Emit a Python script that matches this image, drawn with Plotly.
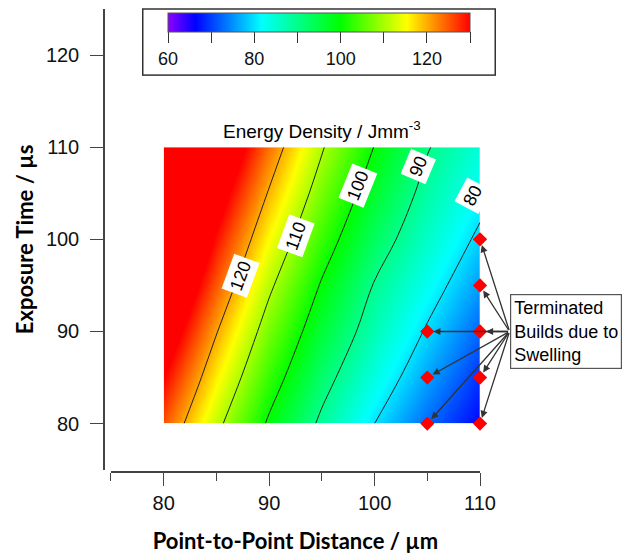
import plotly.graph_objects as go

# ---- data ----
distance = [80, 85, 90, 95, 100, 105, 110]          # Point-to-Point Distance / µm
exposure = [80, 85, 90, 95, 100, 105, 110]          # Exposure Time / µs
energy = [                                          # Energy Density / Jmm^-3 (rows = exposure)
    [125.3, 111.6, 99.1, 88.8, 80.0, 72.7, 66.5],
    [130.0, 116.0, 103.2, 92.3, 83.7, 76.1, 69.4],
    [135.0, 120.3, 107.1, 95.9, 86.9, 79.4, 72.4],
    [140.0, 124.8, 111.1, 99.4, 89.6, 82.6, 75.7],
    [145.0, 129.0, 115.3, 103.3, 93.1, 85.5, 78.9],
    [150.0, 133.4, 119.5, 107.0, 96.5, 88.0, 81.9],
    [155.0, 138.0, 123.6, 110.5, 99.8, 90.4, 84.4],
]
contour_start, contour_end, contour_step = 80, 120, 10
colorbar_tickvals = [60, 70, 80, 90, 100, 110, 120, 130]
colorbar_ticktext = ['60', '', '80', '', '100', '', '120', '']
x_ticks = [80, 90, 100, 110]
y_ticks = [80, 90, 100, 110, 120]

terminated_distance = [105, 105, 105, 110, 110, 110, 110, 110]
terminated_exposure = [80, 85, 90, 80, 85, 90, 95, 100]

contour_label_text = ["120", "110", "100", "90", "80"]
contour_label_x = [87.3, 92.5, 98.4, 104.1, 109.3]
contour_label_y = [96.0, 100.4, 105.8, 107.9, 104.7]
contour_label_angle = [-70, -70, -68, -67, -62]

rainbow = [[0.0, '#8f00ff'], [0.09, '#0000ff'], [0.31, '#00ffff'],
           [0.57, '#00ff00'], [0.79, '#ffff00'], [1.0, '#ff0000']]

TICKFONT = dict(family='Liberation Sans, Arial, sans-serif', size=20, color='#111')
TITLEFONT = dict(family='Lato, sans-serif', size=22, color='#000', weight='bold')
AXCOL = '#444'

fig = go.Figure()

# colour map (heatmap-coloured contour spans exactly the data range)
fig.add_trace(go.Contour(
    x=distance, y=exposure, z=energy,
    colorscale=rainbow, zauto=False, zmin=60, zmax=130,
    contours=dict(coloring='heatmap', showlines=False,
                  start=contour_start, end=contour_end, size=contour_step),
    line=dict(width=0),
    colorbar=dict(
        orientation='h', x=0.572, xanchor='center', y=1.0, yanchor='top',
        lenmode='pixels', len=350, thickness=19, xpad=24, ypad=4,
        outlinewidth=1, outlinecolor='#555',
        bordercolor='#333', borderwidth=1.5, bgcolor='white',
        tickvals=colorbar_tickvals, ticktext=colorbar_ticktext,
        ticks='outside', ticklen=11, tickwidth=1.3, tickcolor='#333',
        tickfont=dict(family='Liberation Sans, Arial, sans-serif', size=18, color='#111'),
    ),
    hoverinfo='skip',
))

# contour lines
fig.add_trace(go.Contour(
    x=distance, y=exposure, z=energy,
    contours=dict(coloring='none', showlines=True, showlabels=False,
                  start=contour_start, end=contour_end, size=contour_step),
    line=dict(color='#222', width=1),
    showscale=False, hoverinfo='skip',
))

# terminated builds
fig.add_trace(go.Scatter(
    x=terminated_distance, y=terminated_exposure, mode='markers',
    marker=dict(symbol='diamond', size=11, color='#ff0000', line=dict(width=0)),
    cliponaxis=False, showlegend=False, hoverinfo='skip',
))

annotations = []
# contour labels in white boxes
for t, lx, ly, ang in zip(contour_label_text, contour_label_x, contour_label_y, contour_label_angle):
    annotations.append(dict(
        x=lx, y=ly, xref='x', yref='y', text=t, showarrow=False, textangle=ang,
        bgcolor='white', borderpad=3,
        font=dict(family='Liberation Sans, Arial, sans-serif', size=18, color='#000'),
    ))

# heatmap title
annotations.append(dict(
    x=95, y=110.4, xref='x', yref='y', xanchor='center', yanchor='bottom',
    text='Energy Density / Jmm<sup>-3</sup>', showarrow=False,
    font=dict(family='Liberation Sans, Arial, sans-serif', size=19, color='#000'),
))

# call-out box
annotations.append(dict(
    x=1.08, xref='paper', y=90, yref='y', xanchor='left', yanchor='middle',
    text='Terminated<br>Builds due to<br>Swelling', align='left', showarrow=False,
    bordercolor='#555', borderwidth=1.2, borderpad=3, bgcolor='white',
    font=dict(family='Liberation Sans, Arial, sans-serif', size=18, color='#000'),
))
# arrows from the call-out box to each marker
for tx, ty in zip(terminated_distance, terminated_exposure):
    annotations.append(dict(
        x=tx, y=ty, xref='x', yref='y', ax=112.8, ay=90, axref='x', ayref='y',
        text='', showarrow=True, arrowhead=2, arrowsize=1.1, arrowwidth=1.3,
        arrowcolor='#333', standoff=6,
    ))

# page body has an 8px default margin, so the figure is sized to fill the rest
fig.update_layout(
    width=622, height=546,
    margin=dict(l=96, r=150, t=1, b=82),
    paper_bgcolor='white', plot_bgcolor='white',
    showlegend=False,
    annotations=annotations,
    xaxis=dict(
        domain=[0.0186, 1], range=[75, 110], anchor='free', position=0,
        tickvals=x_ticks, ticks='outside', ticklen=13, tickwidth=1.3, tickcolor=AXCOL,
        minor=dict(dtick=5, tick0=75, ticks='outside', ticklen=8, tickwidth=1.3, tickcolor=AXCOL),
        showline=True, linecolor=AXCOL, linewidth=1.5, showgrid=False, zeroline=False,
        tickfont=TICKFONT,
        title=dict(text='Point-to-Point Distance / µm', font=TITLEFONT, standoff=20),
    ),
    yaxis=dict(
        domain=[0.005, 1], range=[75, 125], anchor='free', position=0,
        tickvals=y_ticks, ticks='outside', ticklen=13, tickwidth=1.3, tickcolor=AXCOL,
        ticklabelstandoff=7,
        showline=True, linecolor=AXCOL, linewidth=1.5, showgrid=False, zeroline=False,
        tickfont=TICKFONT,
        title=dict(text='Exposure Time / µs', font=TITLEFONT, standoff=5),
    ),
)

fig.write_html('out.html')
